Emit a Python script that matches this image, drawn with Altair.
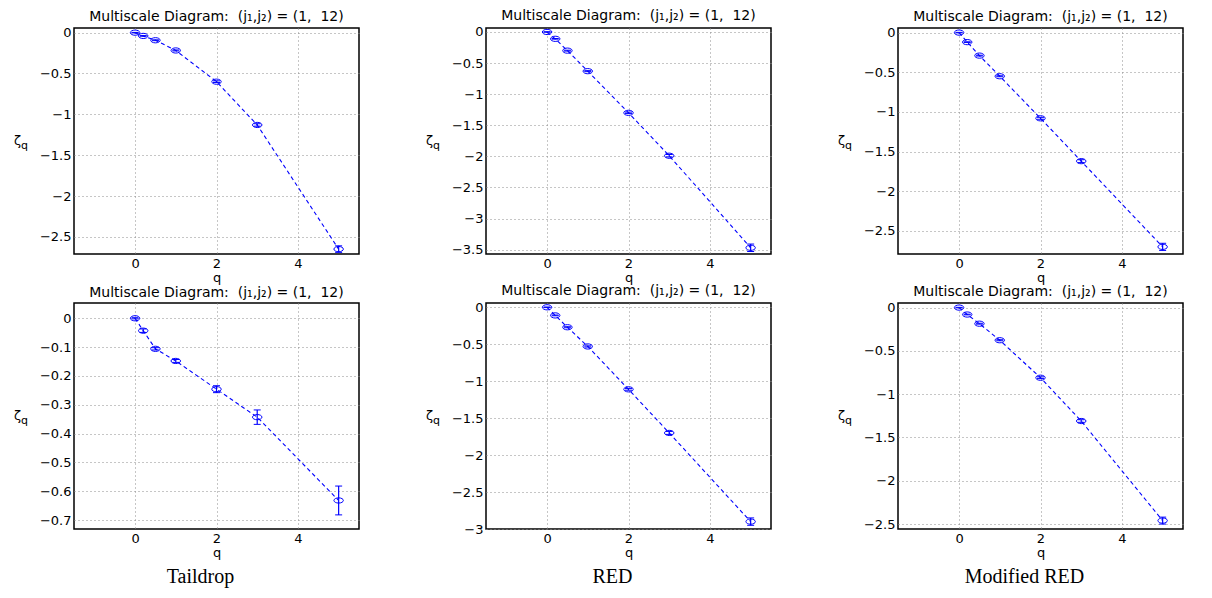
import altair as alt
import pandas as pd

# ---------------- data ----------------
q = [0, 0.2, 0.5, 1, 2, 3, 5]

zeta_taildrop_top = [0, -0.04, -0.093, -0.218, -0.60, -1.13, -2.65]
zeta_red_top = [0, -0.11, -0.30, -0.63, -1.30, -1.99, -3.47]
zeta_mred_top = [0, -0.12, -0.29, -0.55, -1.08, -1.62, -2.70]
zeta_taildrop_bot = [0, -0.043, -0.106, -0.148, -0.246, -0.343, -0.632]
zeta_red_bot = [0, -0.11, -0.27, -0.53, -1.11, -1.70, -2.90]
zeta_mred_bot = [0, -0.08, -0.186, -0.377, -0.81, -1.31, -2.46]

err_taildrop_top = [0.003, 0.004, 0.005, 0.006, 0.01, 0.015, 0.04]
err_red_top = [0.004, 0.005, 0.007, 0.008, 0.012, 0.02, 0.06]
err_mred_top = [0.003, 0.004, 0.005, 0.006, 0.012, 0.018, 0.045]
err_taildrop_bot = [0.002, 0.006, 0.004, 0.005, 0.012, 0.025, 0.05]
err_red_bot = [0.004, 0.005, 0.007, 0.008, 0.012, 0.02, 0.05]
err_mred_bot = [0.003, 0.004, 0.005, 0.006, 0.01, 0.015, 0.04]

ydom_taildrop_top = [-2.71, 0.057]
ydom_red_top = [-3.57, 0.064]
ydom_mred_top = [-2.79, 0.058]
ydom_taildrop_bot = [-0.731, 0.053]
ydom_red_bot = [-3.0, 0.058]
ydom_mred_bot = [-2.557, 0.053]

yticks_taildrop_top = [0, -0.5, -1, -1.5, -2, -2.5]
yticks_red_top = [0, -0.5, -1, -1.5, -2, -2.5, -3, -3.5]
yticks_mred_top = [0, -0.5, -1, -1.5, -2, -2.5]
yticks_taildrop_bot = [0, -0.1, -0.2, -0.3, -0.4, -0.5, -0.6, -0.7]
yticks_red_bot = [0, -0.5, -1, -1.5, -2, -2.5, -3]
yticks_mred_bot = [0, -0.5, -1, -1.5, -2, -2.5]

xticks = [0, 2, 4]
xdom = [-1.5, 5.5]

captions = ["Taildrop", "RED", "Modified RED"]
TITLE = "Multiscale Diagram:\u00a0\u00a0(j\u2081,j\u2082) = (1,\u00a0\u00a012)"

# ---------------- style ----------------
W, H = 285, 226
BLUE = "#0000ff"
SANS = "DejaVu Sans"
SERIF = "Liberation Serif"
ELLIPSE = "M-1,0A1,0.55,0,1,1,1,0A1,0.55,0,1,1,-1,0Z"
CAP = "M-1,0L1,0"


def panel(zeta, err, ydom, yticks, caption=None):
    df = pd.DataFrame({
        "q": q,
        "zeta": zeta,
        "lo": [z - e for z, e in zip(zeta, err)],
        "hi": [z + e for z, e in zip(zeta, err)],
    })
    xscale = alt.Scale(domain=xdom, nice=False, zero=False)
    yscale = alt.Scale(domain=ydom, nice=False, zero=False)
    xenc = alt.X("q:Q", scale=xscale, title="q",
                 axis=alt.Axis(values=xticks, format="~g", titlePadding=1))
    yaxis = alt.Axis(values=yticks, format="~g")

    def Y(field):
        return alt.Y(field, scale=yscale, title=None, axis=yaxis)

    base = alt.Chart(df)
    line = base.mark_line(color=BLUE, strokeDash=[4, 3], strokeWidth=1.1).encode(
        x=xenc, y=Y("zeta:Q"))
    bars = base.mark_rule(color=BLUE, strokeWidth=1.2).encode(
        x=xenc, y=Y("lo:Q"), y2="hi:Q")
    cap_lo = base.mark_point(shape=CAP, size=49, color=BLUE, strokeWidth=1,
                             opacity=1).encode(x=xenc, y=Y("lo:Q"))
    cap_hi = base.mark_point(shape=CAP, size=49, color=BLUE, strokeWidth=1,
                             opacity=1).encode(x=xenc, y=Y("hi:Q"))
    pts = base.mark_point(shape=ELLIPSE, size=90, color=BLUE, strokeWidth=1,
                          filled=False, opacity=1).encode(x=xenc, y=Y("zeta:Q"))

    lab = alt.Chart(pd.DataFrame({"s": ["\u03b6"]})).mark_text(
        font=SANS, fontSize=13, align="left", baseline="middle", color="black"
    ).encode(x=alt.value(-60), y=alt.value(H / 2), text="s:N")
    sub = alt.Chart(pd.DataFrame({"s": ["q"]})).mark_text(
        font=SANS, fontSize=11, align="left", baseline="middle", color="black"
    ).encode(x=alt.value(-53), y=alt.value(H / 2 + 5), text="s:N")

    layers = [line, bars, cap_lo, cap_hi, pts, lab, sub]
    if caption is not None:
        cap = alt.Chart(pd.DataFrame({"s": [caption]})).mark_text(
            font=SERIF, fontSize=20, align="center", baseline="alphabetic",
            color="black"
        ).encode(x=alt.value(W / 2 - 16), y=alt.value(H + 54), text="s:N")
        layers.append(cap)

    return alt.layer(*layers).properties(
        width=W, height=H,
        title=alt.TitleParams(TITLE, font=SANS, fontSize=14, fontWeight="normal",
                              color="black", offset=3, anchor="middle"),
    )


top = alt.hconcat(
    panel(zeta_taildrop_top, err_taildrop_top, ydom_taildrop_top, yticks_taildrop_top),
    panel(zeta_red_top, err_red_top, ydom_red_top, yticks_red_top),
    panel(zeta_mred_top, err_mred_top, ydom_mred_top, yticks_mred_top),
    spacing=65,
)
bottom = alt.hconcat(
    panel(zeta_taildrop_bot, err_taildrop_bot, ydom_taildrop_bot, yticks_taildrop_bot, captions[0]),
    panel(zeta_red_bot, err_red_bot, ydom_red_bot, yticks_red_bot, captions[1]),
    panel(zeta_mred_bot, err_mred_bot, ydom_mred_bot, yticks_mred_bot, captions[2]),
    spacing=65,
)

chart = alt.vconcat(top, bottom, spacing=-2).properties(
    padding={"left": 5, "top": 0, "right": 5, "bottom": 0}
).configure_view(
    stroke="black", strokeWidth=1.5
).configure_axis(
    labelFont=SANS, labelFontSize=13, labelColor="black",
    titleFont=SANS, titleFontSize=13, titleFontWeight="normal", titleColor="black",
    domain=False, ticks=False, grid=True, gridColor="#8c8c8c",
    gridDash=[1, 3], gridWidth=1, labelPadding=3,
)

chart.save("out.html", embed_options={"renderer": "svg", "actions": False})
